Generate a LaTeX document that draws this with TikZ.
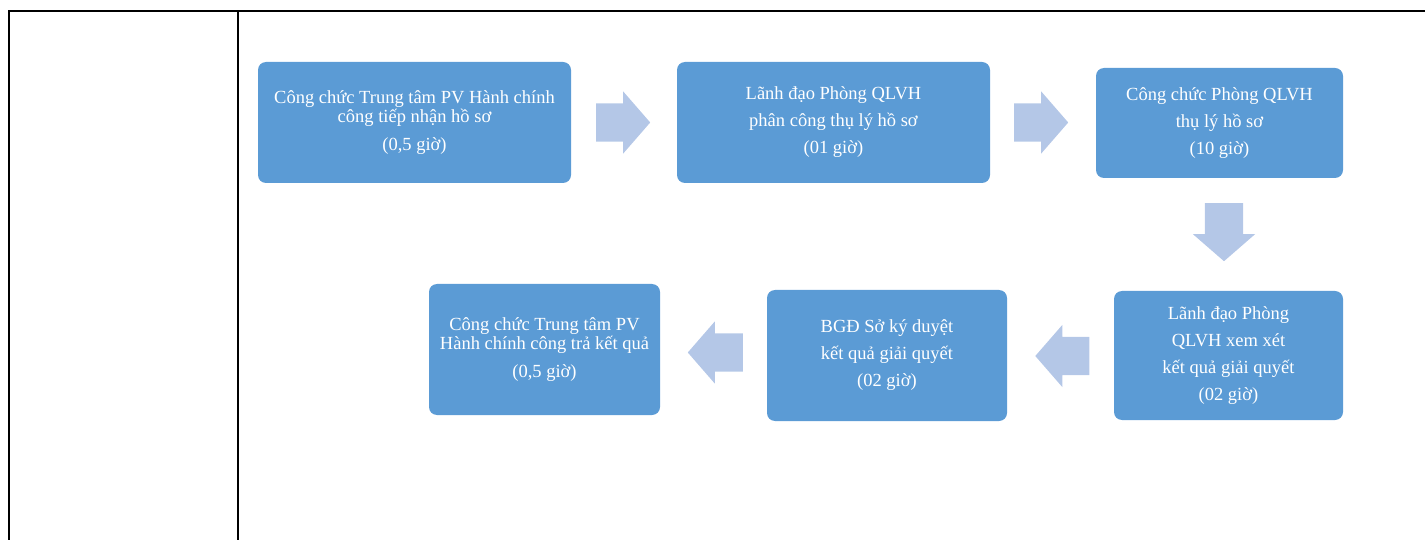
\documentclass[tikz,border=0pt]{standalone}
\usepackage{fontspec}
\setmainfont{Liberation Serif}
\usetikzlibrary{shapes.arrows}
\definecolor{boxblue}{RGB}{91,155,213}
\definecolor{arrowblue}{RGB}{180,199,231}
\begin{document}
\begin{tikzpicture}[x=1pt,y=-1pt,
	step box/.style={fill=boxblue,rounded corners=8pt,text=white,align=center,
		font=\fontsize{18.5}{18.5}\selectfont},
	block arrow/.style={single arrow,fill=arrowblue,draw=none,inner sep=0pt,
		text height=38pt,text depth=0pt,text width=0pt,single arrow head extend=12pt,
		single arrow tip angle=98,minimum height=54pt,anchor=tail}]
			\useasboundingbox (0,0) rectangle (1425,540);
			% table frame
			\draw [black,line width=2pt] (1425,11) -- (9,11) -- (9,540);
			\draw [black,line width=2pt] (238,11) -- (238,540);
			% steps
			\node [step box,minimum width=313pt,minimum height=121pt] (s1) at (414.5,122.5)
				{C\^ong chức Trung tâm PV Hành chính\\công tiếp nhận hồ sơ\\[9.5pt](0,5 giờ)};
			\node [step box,minimum width=313pt,minimum height=121pt] (s2) at (833.5,122.5)
				{Lãnh đạo Phòng QLVH\\[8.5pt]phân công thụ lý hồ sơ\\[8.5pt](01 giờ)};
			\node [step box,minimum width=247pt,minimum height=110pt] (s3) at (1219.5,123)
				{Công chức Phòng QLVH\\[8.5pt]thụ lý hồ sơ\\[8.5pt](10 giờ)};
			\node [step box,minimum width=229pt,minimum height=129pt] (s4) at (1228.5,355.5)
				{Lãnh đạo Phòng\\[8.5pt]QLVH xem xét\\[8.5pt]kết quả giải quyết\\[8.5pt](02 giờ)};
			\node [step box,minimum width=240pt,minimum height=131pt] (s5) at (887,355.5)
				{BGĐ Sở ký duyệt\\[8.5pt]kết quả giải quyết\\[8.5pt](02 giờ)};
			\node [step box,minimum width=231pt,minimum height=131pt] (s6) at (544.5,349.5)
				{Công chức Trung tâm PV\\Hành chính công trả kết quả\\[9.5pt](0,5 giờ)};
			% arrows between steps
			\node [block arrow] (a12) at (596,122.5) {};
			\node [block arrow] (a23) at (1014,122.5) {};
			\node [block arrow,rotate=-90,minimum height=58pt] (a34) at (1224,203) {};
			\node [block arrow,rotate=180] (a45) at (1089.5,356) {};
			\node [block arrow,rotate=180,minimum height=55pt] (a56) at (743,352.5) {};
\end{tikzpicture}
\end{document}
